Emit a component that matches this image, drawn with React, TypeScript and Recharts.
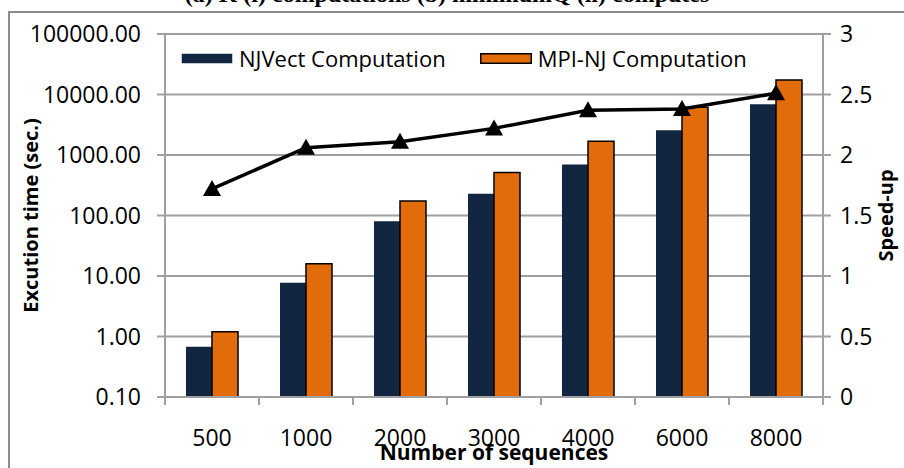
import React from 'react';
import { ComposedChart, Bar, Line, XAxis, YAxis, CartesianGrid, Legend } from 'recharts';

const categories = ['500', '1000', '2000', '3000', '4000', '6000', '8000'];
const njvectTime = [0.68, 7.7, 80, 229, 695, 2570, 6900];
const mpiNjTime = [1.2, 15.9, 174, 513, 1690, 6150, 17400];
const speedUp = [1.72, 2.06, 2.11, 2.22, 2.37, 2.38, 2.51];
const timeTicks = [0.1, 1, 10, 100, 1000, 10000, 100000];
const speedTicks = [0, 0.5, 1, 1.5, 2, 2.5, 3];

const data = categories.map((seq, i) => ({
  seq,
  njvect: njvectTime[i],
  mpinj: mpiNjTime[i],
  speedup: speedUp[i],
}));

const W = 904;
const H = 468;
const LEFT_W = 165;
const RIGHT_W = 81;
const STEP = (W - LEFT_W - RIGHT_W) / categories.length;
const FONT = '"Open Sans", sans-serif';
const GRID = '#a0a0a0';

// Excel puts the category tick marks between the groups, not under them
function CategoryTick(props: any) {
  const { x, y, payload, index } = props;
  const left = x - STEP / 2;
  return (
    <g>
      <line x1={left} x2={left} y1={y} y2={y + 8} stroke={GRID} strokeWidth={2} />
      {index === categories.length - 1 && (
        <line x1={x + STEP / 2} x2={x + STEP / 2} y1={y} y2={y + 8} stroke={GRID} strokeWidth={2} />
      )}
      <text x={x} y={y + 49} textAnchor="middle" fontSize={23} fontFamily={FONT} fill="#000">
        {payload.value}
      </text>
    </g>
  );
}

function Triangle(props: any) {
  const { cx, cy } = props;
  if (cx == null || cy == null) return null;
  return <polygon points={`${cx},${cy - 9} ${cx - 9},${cy + 7} ${cx + 9},${cy + 7}`} fill="#000" />;
}

function LegendBox() {
  const items = [
    { label: 'NJVect Computation', fill: '#132641', stroke: 'none' },
    { label: 'MPI-NJ Computation', fill: '#e36c0a', stroke: '#000' },
  ];
  return (
    <div style={{ display: 'flex', alignItems: 'center', fontFamily: FONT, fontSize: 22, color: '#000' }}>
      {items.map((it) => (
        <div key={it.label} style={{ display: 'flex', alignItems: 'center', marginRight: 34 }}>
          <svg width={52} height={11} style={{ marginRight: 6 }}>
            <rect x={0.75} y={0.75} width={50.5} height={9.5} fill={it.fill} stroke={it.stroke} strokeWidth={1.5} />
          </svg>
          <span>{it.label}</span>
        </div>
      ))}
    </div>
  );
}

export default function App() {
  return (
    <div style={{ position: 'absolute', left: 0, top: 0, width: W, height: H, overflow: 'hidden', background: '#fff' }}>
      <div
        style={{
          position: 'absolute',
          left: 8,
          top: 11,
          width: 940,
          height: 520,
          border: '2px solid #8c8c8c',
        }}
      />
      <div
        style={{
          position: 'absolute',
          left: 0,
          width: 894,
          top: -19,
          textAlign: 'center',
          fontFamily: '"Liberation Serif", serif',
          fontWeight: 'bold',
          fontSize: 24,
          whiteSpace: 'nowrap',
        }}
      >
        (a) K (i) computations (b) minimumQ (ii) computes
      </div>
      <div style={{ position: 'absolute', left: 0, top: 0 }}>
        <ComposedChart
          width={W}
          height={H}
          data={data}
          margin={{ top: 34, right: 0, bottom: 0, left: 0 }}
          barGap={0}
        >
          <CartesianGrid yAxisId="left" vertical={false} stroke={GRID} strokeWidth={2} />
          <XAxis
            dataKey="seq"
            height={71}
            stroke={GRID}
            strokeWidth={2}
            tickLine={false}
            tickSize={0}
            tickMargin={0}
            interval={0}
            tick={<CategoryTick />}
            label={{
              value: 'Number of sequences',
              position: 'insideBottom',
              offset: 8,
              style: { fontFamily: FONT, fontWeight: 'bold', fontSize: 21, fill: '#000' },
            }}
          />
          <YAxis
            yAxisId="left"
            width={LEFT_W}
            scale="log"
            domain={[0.1, 100000]}
            ticks={timeTicks}
            allowDataOverflow
            tickFormatter={(v: number) => v.toFixed(2)}
            stroke={GRID}
            strokeWidth={2}
            tickSize={8}
            tickMargin={16}
            tick={{ fill: '#000', fontSize: 23, fontFamily: FONT }}
            label={{
              value: 'Excution time (sec.)',
              angle: -90,
              position: 'insideLeft',
              offset: 31,
              style: { textAnchor: 'middle', fontFamily: FONT, fontWeight: 'bold', fontSize: 20, fill: '#000' },
            }}
          />
          <YAxis
            yAxisId="right"
            orientation="right"
            width={RIGHT_W}
            domain={[0, 3]}
            ticks={speedTicks}
            stroke={GRID}
            strokeWidth={2}
            tickSize={8}
            tickMargin={9}
            tick={{ fill: '#000', fontSize: 23, fontFamily: FONT }}
            label={{
              value: 'Speed-up',
              angle: -90,
              position: 'insideRight',
              offset: 18,
              style: { textAnchor: 'middle', fontFamily: FONT, fontWeight: 'bold', fontSize: 20, fill: '#000' },
            }}
          />
          <Legend
            verticalAlign="middle"
            align="center"
            layout="horizontal"
            content={<LegendBox />}
            wrapperStyle={{ left: 181, top: 43, width: 640 }}
          />
          <Bar yAxisId="left" dataKey="njvect" name="NJVect Computation" fill="#132641" barSize={26} isAnimationActive={false} />
          <Bar
            yAxisId="left"
            dataKey="mpinj"
            name="MPI-NJ Computation"
            fill="#e36c0a"
            stroke="#000"
            strokeWidth={1.5}
            barSize={26}
            isAnimationActive={false}
          />
          <Line
            yAxisId="right"
            dataKey="speedup"
            name="Speed-up"
            stroke="#000"
            strokeWidth={3.5}
            dot={<Triangle />}
            activeDot={false}
            legendType="none"
            isAnimationActive={false}
          />
        </ComposedChart>
      </div>
    </div>
  );
}
